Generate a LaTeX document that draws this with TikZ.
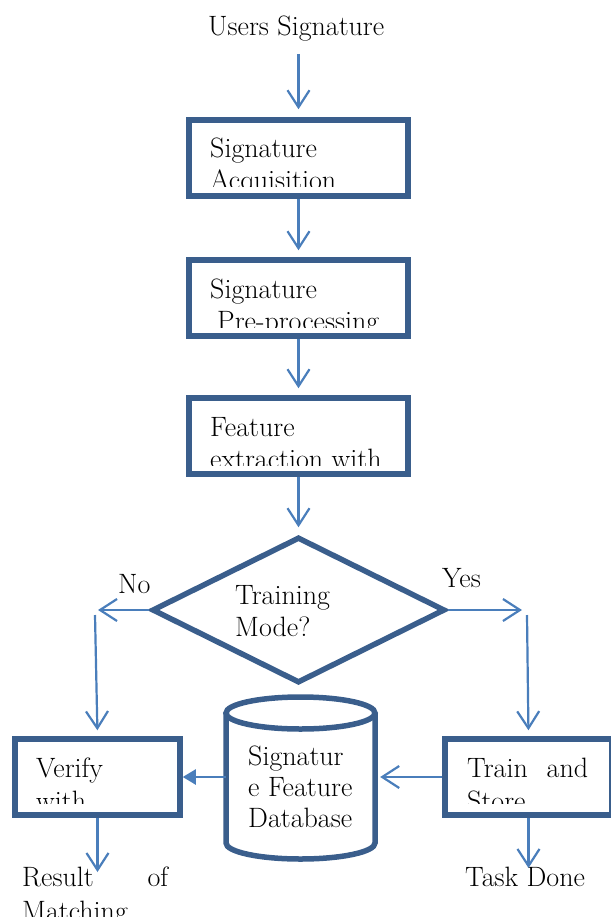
\documentclass[tikz,border=0pt]{standalone}
\usepackage{fontspec}
\usetikzlibrary{arrows.meta,shapes.geometric}
\definecolor{bord}{HTML}{3A5E8C}
\definecolor{arr}{HTML}{4A7EBB}
\begin{document}
\begin{tikzpicture}[x=1pt,y=-1pt,
  box/.style={draw=bord, line width=5.5pt, inner sep=0pt},
  lbl/.style={anchor=base west, inner sep=0pt, font=\fontsize{28}{32}\selectfont, text=black},
  flow/.style={draw=arr, line width=2.2pt, -{Straight Barb[length=17pt,width=22pt]}},
  fillflow/.style={draw=arr, line width=2.2pt, -{Triangle[length=13pt,width=15pt]}}]
\useasboundingbox (0,0) rectangle (610,917);

% title
\node[lbl] (users) at (208,36) {Users Signature};

% process boxes
\node[box, minimum width=219pt, minimum height=76pt] (b1) at (298.5,158) {};
\node[box, minimum width=219pt, minimum height=76pt] (b2) at (298.5,298) {};
\node[box, minimum width=219pt, minimum height=76pt] (b3) at (298.5,436) {};

\begin{scope}
  \clip (192,123) rectangle (405,187);
  \node[lbl] (b1a) at (210,158) {Signature};
  \node[lbl] (b1b) at (210,190) {Acquisition};
\end{scope}
\begin{scope}
  \clip (192,263) rectangle (405,327);
  \node[lbl] (b2a) at (210,298) {Signature};
  \node[lbl] (b2b) at (217,330) {Pre-processing};
\end{scope}
\begin{scope}
  \clip (192,401) rectangle (405,465);
  \node[lbl] (b3a) at (210,436) {Feature};
  \node[lbl] (b3b) at (210,468) {extraction with};
\end{scope}

% decision
\node[box, diamond, minimum width=293pt, minimum height=146pt] (dia) at (298.5,610) {};
\node[lbl] (dia1) at (235,604) {Training};
\node[lbl] (dia2) at (235,636) {Mode?};
\node[lbl] (no) at (118,593) {No};
\node[lbl] (yes) at (442,587) {Yes};

% bottom boxes
\node[box, minimum width=165pt, minimum height=76pt] (ver) at (97.5,777) {};
\node[box, minimum width=167pt, minimum height=76pt] (trn) at (528.5,777) {};
\begin{scope}
  \clip (18,742) rectangle (177,803);
  \node[lbl] (ver1) at (36,777) {Verify};
  \node[lbl] (ver2) at (36,810) {with};
\end{scope}
\begin{scope}
  \clip (448,742) rectangle (608,803);
  \node[lbl] (trn1) at (467,777) {\makebox[121pt][s]{Train and}};
  \node[lbl] (trn2) at (467,810) {Store};
\end{scope}

% database cylinder
\node[minimum width=149pt, minimum height=162pt, inner sep=0pt] (db) at (300.5,777) {};
\draw[draw=bord, line width=5.5pt] (300.5,713) ellipse [x radius=74.5pt, y radius=16pt];
\draw[draw=bord, line width=5.5pt] (226,713) -- (226,843)
  arc[start angle=180, end angle=360, x radius=74.5pt, y radius=16pt] -- (375,713);
\node[lbl] (db1) at (248,765) {Signatur};
\node[lbl] (db2) at (248,796) {e Feature};
\node[lbl] (db3) at (248,827) {Database};

% outputs
\node[lbl] (res1) at (22,886) {\makebox[146pt][s]{Result of}};
\node[lbl] (res2) at (22,920) {Matching};
\node[lbl] (done) at (465,886) {Task Done};

% free-end coordinates
\coordinate (noend) at (98,610);
\coordinate (nostart) at (95,615);
\coordinate (yesend) at (522,610);
\coordinate (yesstart) at (527,615);
\coordinate (resend) at (97.5,872);
\coordinate (doneend) at (528.5,868);

% connectors
\draw[flow, shorten <=12pt, shorten >=8pt] (users.south -| b1.north) -- (b1.north);
\draw[flow, shorten >=7pt] (b1.south) -- (b2.north);
\draw[flow, shorten >=7pt] (b2.south) -- (b3.north);
\draw[flow, shorten >=7pt] (b3.south) -- (dia.north);
\draw[flow] (dia.west) -- (noend);
\draw[flow, shorten >=6pt] (nostart) -- (ver.north);
\draw[flow] (dia.east) -- (yesend);
\draw[flow, shorten >=6pt] (yesstart) -- (trn.north);
\draw[fillflow] (db.west) -- (ver.east);
\draw[flow, shorten >=5pt] (trn.west) -- (db.east);
\draw[flow] (ver.south) -- (resend);
\draw[flow] (trn.south) -- (doneend);
\end{tikzpicture}
\end{document}
